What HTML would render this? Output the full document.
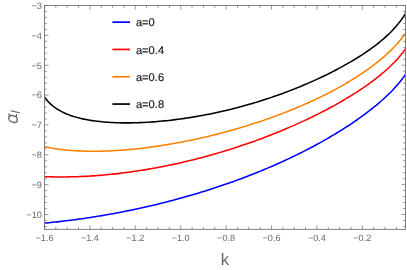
<!DOCTYPE html>
<html><head><meta charset="utf-8"><style>
html,body{margin:0;padding:0;background:#fff;}
svg{display:block;font-family:"Liberation Sans",sans-serif;}
text{text-rendering:geometricPrecision;}
.t{filter:grayscale(1);}
</style></head><body>
<svg width="407" height="270" viewBox="0 0 407 270">
<rect width="407" height="270" fill="#fff"/>
<defs><clipPath id="c"><rect x="44.5" y="5.5" width="361.0" height="223.9"/></clipPath></defs>
<g clip-path="url(#c)" fill="none" stroke-width="1.55" stroke-linejoin="round">
<path d="M44.5,223.15 L45.0,223.10 L45.5,223.06 L46.0,223.01 L46.5,222.96 L47.0,222.91 L47.5,222.86 L48.0,222.82 L48.5,222.77 L49.0,222.72 L49.5,222.67 L50.0,222.62 L50.5,222.57 L52.7,222.34 L55.0,222.10 L57.2,221.86 L59.4,221.61 L61.7,221.35 L63.9,221.09 L66.1,220.82 L68.4,220.54 L70.6,220.26 L72.8,219.97 L75.1,219.68 L77.3,219.37 L79.5,219.07 L81.8,218.75 L84.0,218.43 L86.2,218.10 L88.5,217.77 L90.7,217.42 L92.9,217.08 L95.2,216.72 L97.4,216.36 L99.6,215.99 L101.9,215.62 L104.1,215.24 L106.3,214.85 L108.6,214.46 L110.8,214.06 L113.0,213.65 L115.2,213.24 L117.5,212.82 L119.7,212.39 L121.9,211.96 L124.2,211.52 L126.4,211.08 L128.6,210.62 L130.9,210.17 L133.1,209.70 L135.3,209.23 L137.6,208.75 L139.8,208.26 L142.0,207.77 L144.3,207.27 L146.5,206.77 L148.7,206.26 L151.0,205.74 L153.2,205.21 L155.4,204.68 L157.7,204.14 L159.9,203.59 L162.1,203.04 L164.4,202.48 L166.6,201.91 L168.8,201.34 L171.1,200.76 L173.3,200.17 L175.5,199.57 L177.8,198.97 L180.0,198.36 L182.2,197.74 L184.5,197.12 L186.7,196.49 L188.9,195.85 L191.2,195.20 L193.4,194.55 L195.6,193.89 L197.9,193.22 L200.1,192.54 L202.3,191.86 L204.6,191.17 L206.8,190.47 L209.0,189.76 L211.3,189.04 L213.5,188.32 L215.7,187.59 L218.0,186.85 L220.2,186.10 L222.4,185.34 L224.7,184.58 L226.9,183.80 L229.1,183.02 L231.3,182.23 L233.6,181.43 L235.8,180.62 L238.0,179.81 L240.3,178.98 L242.5,178.15 L244.7,177.30 L247.0,176.45 L249.2,175.59 L251.4,174.72 L253.7,173.84 L255.9,172.95 L258.1,172.05 L260.4,171.14 L262.6,170.22 L264.8,169.29 L267.1,168.35 L269.3,167.40 L271.5,166.44 L273.8,165.47 L276.0,164.48 L278.2,163.49 L280.5,162.49 L282.7,161.47 L284.9,160.45 L287.2,159.41 L289.4,158.36 L291.6,157.30 L293.9,156.23 L296.1,155.15 L298.3,154.05 L300.6,152.94 L302.8,151.82 L305.0,150.68 L307.3,149.53 L309.5,148.37 L311.7,147.20 L314.0,146.01 L316.2,144.80 L318.4,143.59 L320.7,142.35 L322.9,141.11 L325.1,139.84 L327.4,138.56 L329.6,137.27 L331.8,135.95 L334.1,134.62 L336.3,133.28 L338.5,131.91 L340.8,130.53 L343.0,129.12 L345.2,127.70 L347.4,126.25 L349.7,124.79 L351.9,123.30 L354.1,121.79 L356.4,120.25 L358.6,118.69 L360.8,117.10 L363.1,115.48 L365.3,113.83 L367.5,112.15 L369.8,110.44 L372.0,108.69 L374.2,106.90 L376.5,105.07 L378.7,103.19 L380.9,101.27 L383.2,99.28 L385.4,97.24 L387.6,95.14 L389.9,92.95 L392.1,90.69 L394.3,88.32 L396.6,85.85 L398.8,83.24 L401.0,80.49 L403.3,77.55 L405.5,74.39" stroke="#0000ff"/>
<path d="M44.5,176.62 L45.0,176.64 L45.5,176.65 L46.0,176.67 L46.5,176.69 L47.0,176.71 L47.5,176.72 L48.0,176.74 L48.5,176.75 L49.0,176.77 L49.5,176.78 L50.0,176.80 L50.5,176.81 L52.7,176.86 L55.0,176.90 L57.2,176.92 L59.4,176.94 L61.7,176.94 L63.9,176.94 L66.1,176.92 L68.4,176.89 L70.6,176.85 L72.8,176.80 L75.1,176.74 L77.3,176.66 L79.5,176.58 L81.8,176.49 L84.0,176.39 L86.2,176.27 L88.5,176.15 L90.7,176.01 L92.9,175.87 L95.2,175.71 L97.4,175.55 L99.6,175.37 L101.9,175.19 L104.1,175.00 L106.3,174.79 L108.6,174.58 L110.8,174.35 L113.0,174.12 L115.2,173.88 L117.5,173.63 L119.7,173.37 L121.9,173.10 L124.2,172.82 L126.4,172.53 L128.6,172.23 L130.9,171.92 L133.1,171.60 L135.3,171.28 L137.6,170.94 L139.8,170.60 L142.0,170.24 L144.3,169.88 L146.5,169.51 L148.7,169.13 L151.0,168.74 L153.2,168.34 L155.4,167.94 L157.7,167.52 L159.9,167.10 L162.1,166.66 L164.4,166.22 L166.6,165.77 L168.8,165.31 L171.1,164.85 L173.3,164.37 L175.5,163.89 L177.8,163.39 L180.0,162.89 L182.2,162.38 L184.5,161.86 L186.7,161.33 L188.9,160.79 L191.2,160.25 L193.4,159.70 L195.6,159.13 L197.9,158.56 L200.1,157.98 L202.3,157.39 L204.6,156.80 L206.8,156.19 L209.0,155.58 L211.3,154.95 L213.5,154.32 L215.7,153.68 L218.0,153.03 L220.2,152.37 L222.4,151.71 L224.7,151.03 L226.9,150.35 L229.1,149.65 L231.3,148.95 L233.6,148.24 L235.8,147.52 L238.0,146.79 L240.3,146.05 L242.5,145.30 L244.7,144.55 L247.0,143.78 L249.2,143.00 L251.4,142.22 L253.7,141.42 L255.9,140.62 L258.1,139.81 L260.4,138.98 L262.6,138.15 L264.8,137.31 L267.1,136.45 L269.3,135.59 L271.5,134.72 L273.8,133.83 L276.0,132.94 L278.2,132.04 L280.5,131.12 L282.7,130.20 L284.9,129.26 L287.2,128.31 L289.4,127.36 L291.6,126.39 L293.9,125.41 L296.1,124.41 L298.3,123.41 L300.6,122.39 L302.8,121.37 L305.0,120.33 L307.3,119.27 L309.5,118.21 L311.7,117.13 L314.0,116.04 L316.2,114.93 L318.4,113.82 L320.7,112.68 L322.9,111.54 L325.1,110.37 L327.4,109.20 L329.6,108.01 L331.8,106.80 L334.1,105.57 L336.3,104.33 L338.5,103.07 L340.8,101.80 L343.0,100.50 L345.2,99.19 L347.4,97.85 L349.7,96.50 L351.9,95.12 L354.1,93.72 L356.4,92.29 L358.6,90.84 L360.8,89.37 L363.1,87.87 L365.3,86.33 L367.5,84.77 L369.8,83.17 L372.0,81.54 L374.2,79.86 L376.5,78.15 L378.7,76.39 L380.9,74.57 L383.2,72.71 L385.4,70.78 L387.6,68.78 L389.9,66.71 L392.1,64.55 L394.3,62.29 L396.6,59.91 L398.8,57.40 L401.0,54.73 L403.3,51.87 L405.5,48.78" stroke="#ff0000"/>
<path d="M44.5,146.54 L45.0,146.67 L45.5,146.80 L46.0,146.92 L46.5,147.04 L47.0,147.16 L47.5,147.27 L48.0,147.38 L48.5,147.49 L49.0,147.59 L49.5,147.70 L50.0,147.79 L50.5,147.89 L52.7,148.30 L55.0,148.66 L57.2,149.00 L59.4,149.30 L61.7,149.57 L63.9,149.82 L66.1,150.05 L68.4,150.25 L70.6,150.43 L72.8,150.59 L75.1,150.73 L77.3,150.86 L79.5,150.96 L81.8,151.05 L84.0,151.12 L86.2,151.17 L88.5,151.21 L90.7,151.24 L92.9,151.24 L95.2,151.24 L97.4,151.22 L99.6,151.18 L101.9,151.14 L104.1,151.07 L106.3,151.00 L108.6,150.91 L110.8,150.81 L113.0,150.70 L115.2,150.58 L117.5,150.44 L119.7,150.29 L121.9,150.13 L124.2,149.96 L126.4,149.78 L128.6,149.59 L130.9,149.38 L133.1,149.17 L135.3,148.94 L137.6,148.71 L139.8,148.46 L142.0,148.20 L144.3,147.94 L146.5,147.66 L148.7,147.37 L151.0,147.08 L153.2,146.77 L155.4,146.46 L157.7,146.13 L159.9,145.79 L162.1,145.45 L164.4,145.10 L166.6,144.73 L168.8,144.36 L171.1,143.98 L173.3,143.59 L175.5,143.19 L177.8,142.78 L180.0,142.36 L182.2,141.94 L184.5,141.50 L186.7,141.06 L188.9,140.60 L191.2,140.14 L193.4,139.67 L195.6,139.19 L197.9,138.70 L200.1,138.21 L202.3,137.70 L204.6,137.18 L206.8,136.66 L209.0,136.13 L211.3,135.59 L213.5,135.04 L215.7,134.48 L218.0,133.91 L220.2,133.34 L222.4,132.75 L224.7,132.16 L226.9,131.55 L229.1,130.94 L231.3,130.32 L233.6,129.69 L235.8,129.05 L238.0,128.40 L240.3,127.75 L242.5,127.08 L244.7,126.40 L247.0,125.72 L249.2,125.02 L251.4,124.31 L253.7,123.60 L255.9,122.87 L258.1,122.14 L260.4,121.39 L262.6,120.64 L264.8,119.87 L267.1,119.10 L269.3,118.31 L271.5,117.51 L273.8,116.71 L276.0,115.89 L278.2,115.06 L280.5,114.21 L282.7,113.36 L284.9,112.50 L287.2,111.62 L289.4,110.73 L291.6,109.83 L293.9,108.92 L296.1,108.00 L298.3,107.06 L300.6,106.11 L302.8,105.14 L305.0,104.16 L307.3,103.17 L309.5,102.17 L311.7,101.15 L314.0,100.11 L316.2,99.06 L318.4,98.00 L320.7,96.91 L322.9,95.82 L325.1,94.70 L327.4,93.57 L329.6,92.42 L331.8,91.26 L334.1,90.07 L336.3,88.87 L338.5,87.64 L340.8,86.40 L343.0,85.14 L345.2,83.85 L347.4,82.54 L349.7,81.21 L351.9,79.85 L354.1,78.47 L356.4,77.06 L358.6,75.62 L360.8,74.16 L363.1,72.66 L365.3,71.13 L367.5,69.56 L369.8,67.96 L372.0,66.32 L374.2,64.64 L376.5,62.91 L378.7,61.13 L380.9,59.30 L383.2,57.41 L385.4,55.46 L387.6,53.43 L389.9,51.33 L392.1,49.13 L394.3,46.83 L396.6,44.42 L398.8,41.87 L401.0,39.16 L403.3,36.25 L405.5,33.12" stroke="#ff8000"/>
<path d="M44.5,96.87 L45.0,97.60 L45.5,98.29 L46.0,98.96 L46.5,99.59 L47.0,100.20 L47.5,100.79 L48.0,101.35 L48.5,101.90 L49.0,102.42 L49.5,102.93 L50.0,103.41 L50.5,103.89 L52.7,105.82 L55.0,107.53 L57.2,109.03 L59.4,110.38 L61.7,111.60 L63.9,112.69 L66.1,113.69 L68.4,114.60 L70.6,115.43 L72.8,116.18 L75.1,116.88 L77.3,117.52 L79.5,118.10 L81.8,118.64 L84.0,119.13 L86.2,119.58 L88.5,119.99 L90.7,120.37 L92.9,120.71 L95.2,121.02 L97.4,121.30 L99.6,121.56 L101.9,121.79 L104.1,121.99 L106.3,122.17 L108.6,122.33 L110.8,122.47 L113.0,122.58 L115.2,122.68 L117.5,122.76 L119.7,122.82 L121.9,122.86 L124.2,122.89 L126.4,122.89 L128.6,122.89 L130.9,122.86 L133.1,122.82 L135.3,122.77 L137.6,122.71 L139.8,122.62 L142.0,122.53 L144.3,122.42 L146.5,122.30 L148.7,122.17 L151.0,122.02 L153.2,121.86 L155.4,121.69 L157.7,121.50 L159.9,121.31 L162.1,121.10 L164.4,120.88 L166.6,120.65 L168.8,120.41 L171.1,120.15 L173.3,119.89 L175.5,119.61 L177.8,119.32 L180.0,119.02 L182.2,118.71 L184.5,118.39 L186.7,118.06 L188.9,117.72 L191.2,117.36 L193.4,117.00 L195.6,116.62 L197.9,116.24 L200.1,115.84 L202.3,115.43 L204.6,115.01 L206.8,114.58 L209.0,114.14 L211.3,113.69 L213.5,113.23 L215.7,112.76 L218.0,112.27 L220.2,111.78 L222.4,111.28 L224.7,110.76 L226.9,110.23 L229.1,109.70 L231.3,109.15 L233.6,108.59 L235.8,108.02 L238.0,107.44 L240.3,106.84 L242.5,106.24 L244.7,105.62 L247.0,105.00 L249.2,104.36 L251.4,103.71 L253.7,103.05 L255.9,102.38 L258.1,101.70 L260.4,101.00 L262.6,100.30 L264.8,99.58 L267.1,98.85 L269.3,98.11 L271.5,97.36 L273.8,96.59 L276.0,95.81 L278.2,95.03 L280.5,94.22 L282.7,93.41 L284.9,92.58 L287.2,91.75 L289.4,90.90 L291.6,90.03 L293.9,89.15 L296.1,88.26 L298.3,87.36 L300.6,86.44 L302.8,85.51 L305.0,84.57 L307.3,83.61 L309.5,82.64 L311.7,81.66 L314.0,80.66 L316.2,79.64 L318.4,78.61 L320.7,77.56 L322.9,76.50 L325.1,75.43 L327.4,74.33 L329.6,73.22 L331.8,72.09 L334.1,70.95 L336.3,69.78 L338.5,68.60 L340.8,67.40 L343.0,66.17 L345.2,64.93 L347.4,63.66 L349.7,62.37 L351.9,61.06 L354.1,59.72 L356.4,58.36 L358.6,56.97 L360.8,55.54 L363.1,54.09 L365.3,52.60 L367.5,51.08 L369.8,49.51 L372.0,47.91 L374.2,46.26 L376.5,44.56 L378.7,42.80 L380.9,40.99 L383.2,39.10 L385.4,37.14 L387.6,35.10 L389.9,32.96 L392.1,30.71 L394.3,28.33 L396.6,25.81 L398.8,23.11 L401.0,20.20 L403.3,17.04 L405.5,13.58" stroke="#000000"/>
</g>
<g fill="none"><path d="M112.4,22.15H130" stroke="#0000ff" stroke-width="1.7"/><path d="M112.4,49.45H130" stroke="#ff0000" stroke-width="1.7"/><path d="M112.4,76.75H130" stroke="#ff8000" stroke-width="1.7"/><path d="M112.4,104.05H130" stroke="#000000" stroke-width="1.7"/></g><g class="t"><text x="135.9" y="26.4" font-size="11.15" fill="#222" stroke="#222" stroke-width="0.2">a=0</text><text x="135.9" y="53.7" font-size="11.15" fill="#222" stroke="#222" stroke-width="0.2">a=0.4</text><text x="135.9" y="81.0" font-size="11.15" fill="#222" stroke="#222" stroke-width="0.2">a=0.6</text><text x="135.9" y="108.3" font-size="11.15" fill="#222" stroke="#222" stroke-width="0.2">a=0.8</text></g>
<rect x="44.5" y="5.5" width="361.0" height="223.9" fill="none" stroke="#828282" stroke-width="1"/>
<path d="M44.50,229.4v-4M44.50,5.5v4M55.85,229.4v-2.4M55.85,5.5v2.4M67.20,229.4v-2.4M67.20,5.5v2.4M78.55,229.4v-2.4M78.55,5.5v2.4M89.91,229.4v-4M89.91,5.5v4M101.26,229.4v-2.4M101.26,5.5v2.4M112.61,229.4v-2.4M112.61,5.5v2.4M123.96,229.4v-2.4M123.96,5.5v2.4M135.31,229.4v-4M135.31,5.5v4M146.66,229.4v-2.4M146.66,5.5v2.4M158.01,229.4v-2.4M158.01,5.5v2.4M169.37,229.4v-2.4M169.37,5.5v2.4M180.72,229.4v-4M180.72,5.5v4M192.07,229.4v-2.4M192.07,5.5v2.4M203.42,229.4v-2.4M203.42,5.5v2.4M214.77,229.4v-2.4M214.77,5.5v2.4M226.12,229.4v-4M226.12,5.5v4M237.48,229.4v-2.4M237.48,5.5v2.4M248.83,229.4v-2.4M248.83,5.5v2.4M260.18,229.4v-2.4M260.18,5.5v2.4M271.53,229.4v-4M271.53,5.5v4M282.88,229.4v-2.4M282.88,5.5v2.4M294.23,229.4v-2.4M294.23,5.5v2.4M305.58,229.4v-2.4M305.58,5.5v2.4M316.94,229.4v-4M316.94,5.5v4M328.29,229.4v-2.4M328.29,5.5v2.4M339.64,229.4v-2.4M339.64,5.5v2.4M350.99,229.4v-2.4M350.99,5.5v2.4M362.34,229.4v-4M362.34,5.5v4M373.69,229.4v-2.4M373.69,5.5v2.4M385.05,229.4v-2.4M385.05,5.5v2.4M396.40,229.4v-2.4M396.40,5.5v2.4M44.5,5.50h4M405.5,5.50h-4M44.5,11.47h2.4M405.5,11.47h-2.4M44.5,17.44h2.4M405.5,17.44h-2.4M44.5,23.42h2.4M405.5,23.42h-2.4M44.5,29.39h2.4M405.5,29.39h-2.4M44.5,35.36h4M405.5,35.36h-4M44.5,41.33h2.4M405.5,41.33h-2.4M44.5,47.30h2.4M405.5,47.30h-2.4M44.5,53.28h2.4M405.5,53.28h-2.4M44.5,59.25h2.4M405.5,59.25h-2.4M44.5,65.22h4M405.5,65.22h-4M44.5,71.19h2.4M405.5,71.19h-2.4M44.5,77.16h2.4M405.5,77.16h-2.4M44.5,83.14h2.4M405.5,83.14h-2.4M44.5,89.11h2.4M405.5,89.11h-2.4M44.5,95.08h4M405.5,95.08h-4M44.5,101.05h2.4M405.5,101.05h-2.4M44.5,107.02h2.4M405.5,107.02h-2.4M44.5,113.00h2.4M405.5,113.00h-2.4M44.5,118.97h2.4M405.5,118.97h-2.4M44.5,124.94h4M405.5,124.94h-4M44.5,130.91h2.4M405.5,130.91h-2.4M44.5,136.88h2.4M405.5,136.88h-2.4M44.5,142.86h2.4M405.5,142.86h-2.4M44.5,148.83h2.4M405.5,148.83h-2.4M44.5,154.80h4M405.5,154.80h-4M44.5,160.77h2.4M405.5,160.77h-2.4M44.5,166.74h2.4M405.5,166.74h-2.4M44.5,172.72h2.4M405.5,172.72h-2.4M44.5,178.69h2.4M405.5,178.69h-2.4M44.5,184.66h4M405.5,184.66h-4M44.5,190.63h2.4M405.5,190.63h-2.4M44.5,196.60h2.4M405.5,196.60h-2.4M44.5,202.58h2.4M405.5,202.58h-2.4M44.5,208.55h2.4M405.5,208.55h-2.4M44.5,214.52h4M405.5,214.52h-4M44.5,220.49h2.4M405.5,220.49h-2.4M44.5,226.46h2.4M405.5,226.46h-2.4" stroke="#6c6c6c" stroke-width="0.7" fill="none"/>
<g class="t" font-size="9.25" fill="#666"><text x="44.5" y="241.2" font-size="9.1" text-anchor="middle">−1.6</text><text x="89.9" y="241.2" font-size="9.1" text-anchor="middle">−1.4</text><text x="135.3" y="241.2" font-size="9.1" text-anchor="middle">−1.2</text><text x="180.7" y="241.2" font-size="9.1" text-anchor="middle">−1.0</text><text x="226.1" y="241.2" font-size="9.1" text-anchor="middle">−0.8</text><text x="271.5" y="241.2" font-size="9.1" text-anchor="middle">−0.6</text><text x="316.9" y="241.2" font-size="9.1" text-anchor="middle">−0.4</text><text x="362.3" y="241.2" font-size="9.1" text-anchor="middle">−0.2</text><text x="42.0" y="8.8" text-anchor="end">−3</text><text x="42.0" y="38.7" text-anchor="end">−4</text><text x="42.0" y="68.5" text-anchor="end">−5</text><text x="42.0" y="98.4" text-anchor="end">−6</text><text x="42.0" y="128.2" text-anchor="end">−7</text><text x="42.0" y="158.1" text-anchor="end">−8</text><text x="42.0" y="188.0" text-anchor="end">−9</text><text x="42.0" y="217.8" text-anchor="end">−10</text></g>
<text class="t" x="224.9" y="265.3" font-size="16.5" fill="#666" text-anchor="middle">k</text>
<g transform="translate(17.7,123.9) rotate(-90) scale(1,-1) matrix(1,0,0.22,1,0,0)" fill="none" stroke="#666" stroke-linecap="round">
<path d="M7.8,9.2 C7.3,9.1 7.1,8.5 7.1,7.6 L7.1,2.6 C7.1,1.4 7.7,0.9 9.1,1.1 M7.1,5.6 C6.9,7.6 5.5,9.0 3.8,9.0 C1.6,9.0 0.6,7.1 0.6,4.7 C0.6,2.2 1.6,0.4 3.8,0.4 C5.5,0.4 6.9,1.8 7.1,3.8" stroke-width="1.3"/>
<path d="M11.6,-1.9 L11.6,6.5" stroke-width="1.1"/>
</g>
</svg>
</body></html>
